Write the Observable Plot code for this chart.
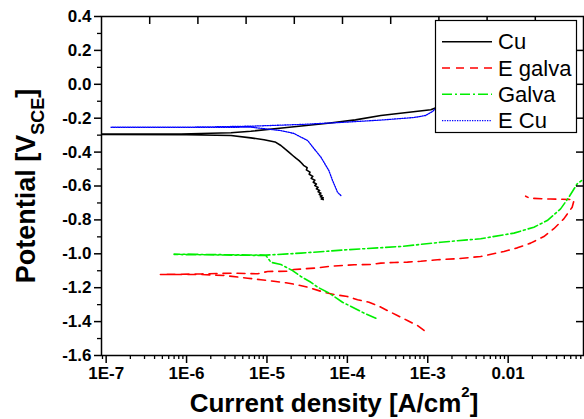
<!DOCTYPE html>
<html><head><meta charset="utf-8">
<script src="https://cdn.jsdelivr.net/npm/d3@7"></script>
<script src="https://cdn.jsdelivr.net/npm/@observablehq/plot@0.6"></script>
<style>
html,body{margin:0;padding:0;background:#fff;}
#chart{position:relative;width:584px;height:419px;}
</style></head><body><div id="chart"></div>
<script>
// ---- data (current density A/cm², potential V vs SCE) ----
const seriesNames = ["Cu", "E galva", "Galva", "E Cu"];
const seriesColors = ["#000000", "#ff0000", "#00ee00", "#0000ff"];

// Cu: cathodic branch (from most negative) -> corrosion potential -> anodic branch
const cuI = [5.01e-5,4.73e-5,5.01e-5,4.62e-5,4.84e-5,4.47e-5,4.68e-5,4.32e-5,4.52e-5,4.12e-5,4.32e-5,3.94e-5,4.12e-5,3.76e-5,3.94e-5,3.55e-5,3.72e-5,3.35e-5,3.43e-5,3.09e-5,3.16e-5,2.85e-5,2.69e-5,2.51e-5,2.29e-5,2.09e-5,1.87e-5,1.66e-5,1.49e-5,1.26e-5,9.2e-6,6.3e-6,3.57e-6,1.0e-6,8.7e-8,
             8.7e-8,8.55e-7,3.57e-6,6.3e-6,1.77e-5,5.73e-5,1.26e-4,2.61e-4,1.09e-3,1.29e-3];
const cuE = [-0.680,-0.676,-0.670,-0.664,-0.657,-0.650,-0.642,-0.634,-0.626,-0.617,-0.608,-0.598,-0.588,-0.578,-0.566,-0.555,-0.543,-0.531,-0.518,-0.505,-0.492,-0.478,-0.464,-0.450,-0.436,-0.420,-0.400,-0.380,-0.361,-0.340,-0.327,-0.316,-0.302,-0.298,-0.296,
             -0.294,-0.293,-0.286,-0.277,-0.255,-0.230,-0.210,-0.184,-0.150,-0.137];

// E galva
const egI = [8.99e-4,7.43e-4,5.58e-4,4.19e-4,3.15e-4,2.37e-4,1.86e-4,1.34e-4,1.0e-4,6.84e-5,5.14e-5,3.2e-5,2.4e-5,1.72e-5,1.22e-5,8.4e-6,5.75e-6,2.92e-6,1.51e-6,4.73e-7,
             1.51e-6,3.89e-6,7.66e-6,1.02e-5,1.81e-5,2.16e-5,4.27e-5,6.24e-5,1.22e-4,1.96e-4,2.61e-4,3.81e-4,5.58e-4,8.18e-4,1.32e-3,2.33e-3,4.55e-3,8.87e-3,1.30e-2,1.90e-2,2.78e-2,3.70e-2,4.92e-2,6.25e-2,6.58e-2,6.49e-2,3.37e-2,1.85e-2,1.65e-2];
const egE = [-1.452,-1.423,-1.394,-1.364,-1.335,-1.305,-1.286,-1.271,-1.252,-1.240,-1.227,-1.197,-1.183,-1.171,-1.162,-1.153,-1.144,-1.128,-1.122,-1.122,
             -1.119,-1.114,-1.118,-1.104,-1.103,-1.093,-1.083,-1.073,-1.065,-1.063,-1.055,-1.051,-1.049,-1.044,-1.035,-1.029,-1.016,-0.986,-0.965,-0.937,-0.898,-0.852,-0.794,-0.725,-0.686,-0.680,-0.677,-0.672,-0.660];

// Galva
const gaI = [2.26e-4,1.61e-4,1.16e-4,8.7e-5,5.94e-5,4.27e-5,3.52e-5,2.64e-5,2.08e-5,1.49e-5,1.12e-5,9.7e-6,7.0e-7,
             7.0e-7,9.7e-6,2.64e-5,1.0e-4,4.62e-4,1.45e-3,4.55e-3,1.18e-2,2.09e-2,3.06e-2,4.49e-2,5.69e-2,7.23e-2,8.18e-2];
const gaE = [-1.380,-1.350,-1.315,-1.286,-1.232,-1.197,-1.168,-1.134,-1.099,-1.063,-1.050,-1.010,-1.004,
             -1.002,-1.008,-0.996,-0.976,-0.957,-0.932,-0.911,-0.878,-0.843,-0.804,-0.735,-0.666,-0.587,-0.568];

// E Cu
const ecI = [8.3e-5,7.55e-5,6.55e-5,5.89e-5,4.69e-5,3.84e-5,3.21e-5,2.16e-5,1.49e-5,6.3e-6,1.5e-6,1.15e-7,
             1.15e-7,1.51e-6,6.3e-6,2.64e-5,8.3e-5,2.61e-4,6.7e-4,9.4e-4,1.15e-3,1.29e-3];
const ecE = [-0.656,-0.637,-0.568,-0.509,-0.430,-0.379,-0.332,-0.290,-0.273,-0.253,-0.254,-0.254,
             -0.253,-0.252,-0.247,-0.237,-0.225,-0.211,-0.196,-0.184,-0.160,-0.137];

// ---- axes ----
const xTickValues = [1e-7, 1e-6, 1e-5, 1e-4, 1e-3, 1e-2];
const xTickLabels = ["1E-7", "1E-6", "1E-5", "1E-4", "1E-3", "0.01"];
const yTickValues = [-1.6, -1.4, -1.2, -1.0, -0.8, -0.6, -0.4, -0.2, 0.0, 0.2, 0.4];
const yTickLabels = ["-1.6", "-1.4", "-1.2", "-1.0", "-0.8", "-0.6", "-0.4", "-0.2", "0.0", "0.2", "0.4"];
const xDomainLog = [-7.058, -1.063];
const yDomain = [-1.6, 0.4];
const xTitle = "Current density [A/cm";
const yTitle = "Potential [V";

const toRows = (I, E) => I.map((v, k) => ({i: v, e: E[k]}));
const rows = [toRows(cuI, cuE), toRows(egI, egE), toRows(gaI, gaE), toRows(ecI, ecE)];
const dashes = [null, "8,6", "10,3,2,3", "1.3,1.2"];
const widths = [1.6, 1.6, 1.6, 1.3];

const W = 584, H = 419, ML = 101, MR = 1, MT = 16, MB = 64;
const xMinor = [];
for (let p = -8; p <= -1; p++) for (let m = 2; m <= 9; m++) xMinor.push(m * 10 ** p);
const yMinor = d3.range(-15, 4, 2).map(k => k / 10);
const topTicks = d3.range(1, 10).map(k => 10 ** (xDomainLog[0] + k * (xDomainLog[1] - xDomainLog[0]) / 10));
const yLab = new Map(yTickValues.map((v, k) => [Math.round(v * 10), yTickLabels[k]]));
const xLab = new Map(xTickValues.map((v, k) => [Math.round(Math.log10(v)), xTickLabels[k]]));

const FONT = "'Liberation Sans', Arial, Helvetica, sans-serif";
const svg = Plot.plot({
  width: W, height: H,
  marginLeft: ML, marginRight: MR, marginTop: MT, marginBottom: MB,
  style: {fontFamily: FONT, fontSize: "17px", fontWeight: "bold", background: "white", color: "black", overflow: "visible"},
  x: {type: "log", domain: xDomainLog.map(v => 10 ** v)},
  y: {domain: yDomain},
  marks: [
    ...rows.map((r, k) => Plot.line(r, {x: "i", y: "e", stroke: seriesColors[k], strokeWidth: widths[k], strokeDasharray: dashes[k], clip: true})),
    // inward mirror ticks on top and right
    Plot.ruleX(topTicks, {stroke: "black", strokeWidth: 1.5, insetBottom: (H - MT - MB) - 8}),
    Plot.ruleY(yTickValues.slice(1, -1), {stroke: "black", strokeWidth: 1.5, insetLeft: (W - ML - MR) - 7}),
    Plot.frame({stroke: "black", strokeWidth: 1.5}),
    Plot.axisX({anchor: "bottom", ticks: xTickValues, tickFormat: d => xLab.get(Math.round(Math.log10(d))), tickSize: 8, tickPadding: 3, strokeWidth: 1.5, fontSize: 17, fontWeight: "bold", label: null}),
    Plot.axisX({anchor: "bottom", ticks: xMinor.filter(v => v >= 10 ** xDomainLog[0] && v <= 10 ** xDomainLog[1]), tickSize: 4, strokeWidth: 1.3, tickFormat: () => "", label: null}),
    Plot.axisY({anchor: "left", ticks: yTickValues, tickFormat: d => yLab.get(Math.round(d * 10)), tickSize: 7, tickPadding: 3, strokeWidth: 1.5, fontSize: 17, fontWeight: "bold", label: null}),
    Plot.axisY({anchor: "left", ticks: yMinor, tickSize: 4, strokeWidth: 1.3, tickFormat: () => "", label: null})
  ]
});
document.getElementById("chart").appendChild(svg);

const s = d3.select(svg);
// x title
const xt = s.append("text").attr("x", 334).attr("y", 412).attr("text-anchor", "middle")
  .attr("font-family", FONT).attr("font-weight", "bold").attr("font-size", 26).attr("fill", "black");
xt.append("tspan").text(xTitle);
xt.append("tspan").attr("font-size", 15).attr("dy", -15).text("2");
xt.append("tspan").attr("dy", 15).text("]");
// y title
const yt = s.append("text").attr("transform", "translate(35,186) rotate(-90)").attr("text-anchor", "middle")
  .attr("font-family", FONT).attr("font-weight", "bold").attr("font-size", 27).attr("fill", "black");
yt.append("tspan").text(yTitle);
yt.append("tspan").attr("font-size", 18).attr("dy", 9).text("SCE");
yt.append("tspan").attr("dy", -9).text("]");

// legend
const lg = s.append("g").attr("font-family", FONT).attr("font-size", 22).attr("font-weight", "normal").attr("text-anchor", "start");
lg.append("rect").attr("x", 435.5).attr("y", 20.5).attr("width", 141).attr("height", 112)
  .attr("fill", "white").attr("stroke", "black").attr("stroke-width", 1.2);
seriesNames.forEach((name, k) => {
  const cy = 41.7 + k * 26.3;
  lg.append("line").attr("x1", 442).attr("x2", 492).attr("y1", cy).attr("y2", cy)
    .attr("stroke", seriesColors[k]).attr("stroke-width", widths[k]).attr("stroke-dasharray", dashes[k]);
  lg.append("text").attr("x", 498).attr("y", cy + 7.5).attr("text-anchor", "start").attr("fill", "black").text(name);
});
</script></body></html>
